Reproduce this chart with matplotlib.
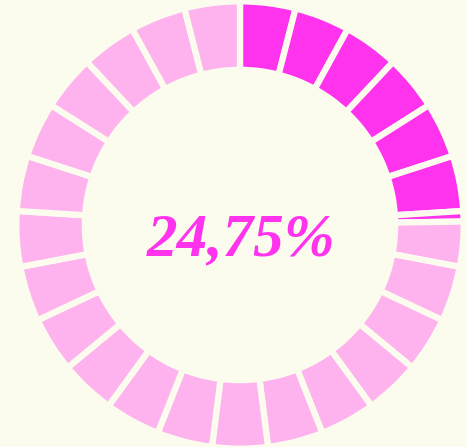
import matplotlib
matplotlib.use("Agg")
import matplotlib.pyplot as plt

# gauge data: value in percent, ring split into equal blocks
value = 24.75
n_blocks = 25
label = "24,75%"

bg_color = "#fbfcee"
fill_color = "#ff33ee"
rest_color = "#feb3ee"

block = 100 / n_blocks
n_full = int(value // block)
part = value - n_full * block

sizes = [block] * n_full
colors = [fill_color] * n_full
if part > 0:
    sizes += [part, block - part]
    colors += [fill_color, rest_color]
n_left = n_blocks - n_full - (1 if part > 0 else 0)
sizes += [block] * n_left
colors += [rest_color] * n_left

fig = plt.figure(figsize=(4.66, 4.47), dpi=100, facecolor=bg_color)
# axes sized so the ring's outer radius is ~221 px, centred at (240, 225)
ax = fig.add_axes([19 / 466, 1 / 447, 442 / 466, 442 / 447])
ax.set_facecolor(bg_color)

ax.pie(sizes, colors=colors, startangle=90, counterclock=False, radius=1.012,
       wedgeprops=dict(width=0.31, edgecolor=bg_color, linewidth=4.5))

ax.text(0.005, -0.136, label, ha="center", va="baseline",
        fontsize=44, fontweight="bold", fontstyle="italic",
        family="Liberation Serif", color=fill_color)

ax.set_xlim(-1, 1)
ax.set_ylim(-1, 1)
ax.set_aspect("equal")
ax.axis("off")

fig.savefig("out.png", dpi=100, facecolor=bg_color)
